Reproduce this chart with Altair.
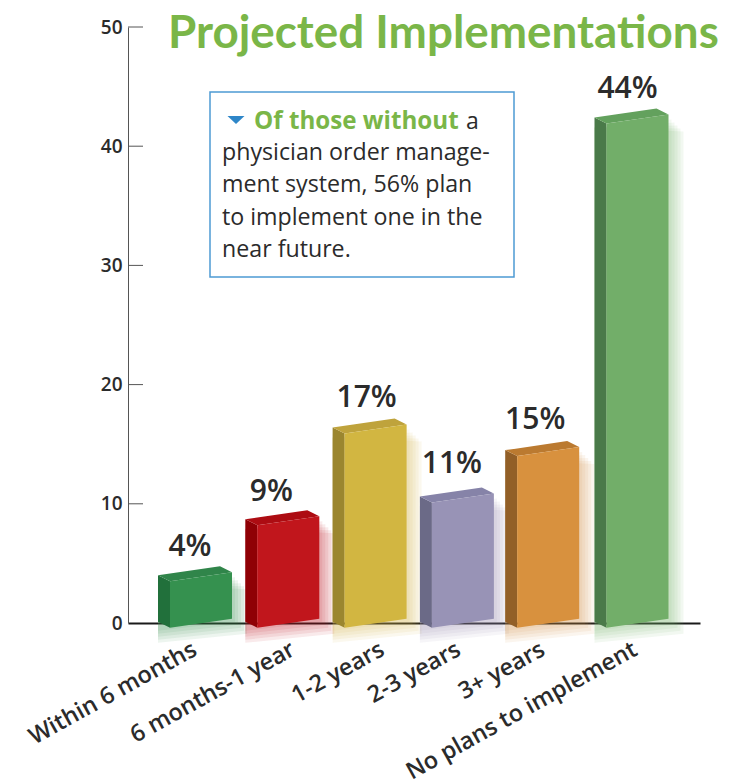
import altair as alt
import pandas as pd

categories = ["Within 6 months", "6 months-1 year", "1-2 years", "2-3 years", "3+ years", "No plans to implement"]
bar_heights = [3.9, 8.6, 16.3, 10.5, 14.4, 42.3]
value_labels = ["4%", "9%", "17%", "11%", "15%", "44%"]
front_colors = ["#35914f", "#c1161c", "#d2b641", "#9893b6", "#d8913e", "#72ae69"]
side_colors = ["#21703b", "#8f0005", "#9b862f", "#6b6a87", "#925f27", "#4a7a49"]
top_colors = ["#30854a", "#ad0c12", "#bfa33c", "#8683a8", "#bb7a30", "#63a15d"]
y_ticks = [0, 10, 20, 30, 40, 50]
note_lines = ["physician order manage-", "ment system, 56% plan", "to implement one in the", "near future."]

PLOT_W, PLOT_H = 572, 596
SLOT = 87.3
PX_X = 1 / SLOT
PX_Y = 50 / PLOT_H
FONT = "Open Sans"
INK = "#2b2b2b"

half = 31 * PX_X
depth = 12 * PX_X
rise = 6 * PX_Y
slant = 9 * PX_Y
base = -0.4
bar_nudge = [0, 0, 0, 0, -2, 0]
label_nudge_x = [0, -6, 2, 0, -4, 1]
label_nudge_y = [-1, -3, 0, 3, 0, -1]
cat_nudge_x = [-6, 5, 7, -4, -7, -2]

faces, shadows, labels, cats = [], [], [], []
for i, h in enumerate(bar_heights):
    c = i + bar_nudge[i] * PX_X
    xl, xr = c - half, c + half
    w = xr - xl
    b, t = base, base + h
    k = str(i)
    for x, up, lo in [(xl - depth, t + rise, b + rise), (xl, t, b)]:
        faces.append(dict(bar=k, face="side", x=x, up=up, lo=lo, color=side_colors[i]))
    for x, up, lo in [
        (xl - depth, t + rise, t + rise),
        (xl, t + rise + slant * depth / w, t),
        (xr - depth, t + slant + rise, t + slant * (w - depth) / w),
        (xr, t + slant, t + slant),
    ]:
        faces.append(dict(bar=k, face="top", x=x, up=up, lo=lo, color=top_colors[i]))
    for x, up, lo in [(xl, t, b), (xr, t + slant, b + slant)]:
        faces.append(dict(bar=k, face="front", x=x, up=up, lo=lo, color=front_colors[i]))
    for g in [3, 6, 9, 12, 15]:
        for x, up, lo in [(xl - depth, t - 4 * PX_Y, b - g * PX_Y),
                          (xr + g * PX_X, t + slant - (g + 2) * PX_Y, b + slant - g * PX_Y)]:
            shadows.append(dict(bar=f"{i}-{g}", x=x, up=up, lo=lo, color=front_colors[i]))
    labels.append(dict(x=i + (label_nudge_x[i] - 11) * PX_X, y=h + 2.6 + label_nudge_y[i] * PX_Y, text=value_labels[i]))
    cats.append(dict(x=i + cat_nudge_x[i] * PX_X, y=-25 * PX_Y, text=categories[i]))

faces = pd.DataFrame(faces)
shadows = pd.DataFrame(shadows)
labels = pd.DataFrame(labels)
cats = pd.DataFrame(cats)

x_scale = alt.Scale(domain=[-73 / SLOT, (PLOT_W - 73) / SLOT], nice=False, zero=False)
y_scale = alt.Scale(domain=[0, 50], nice=False)

x_axis = alt.Axis(
    values=list(range(6)), labels=False, grid=False, ticks=False, tickSize=0,
    domainColor="#1a1a1a", domainWidth=2, title=None,
)
y_axis = alt.Axis(
    values=y_ticks, grid=False, ticks=False, tickSize=0, domainColor="#555555", domainWidth=1,
    labelFont=FONT, labelFontSize=19, labelFontWeight=600, labelColor=INK, labelPadding=6,
    title=None,
)

shadow_layer = alt.Chart(shadows).mark_area(opacity=0.09, interpolate="linear", clip=False).encode(
    x=alt.X("x:Q", scale=x_scale, axis=x_axis),
    y=alt.Y("up:Q", scale=y_scale, axis=y_axis, stack=None),
    y2="lo:Q", detail="bar:N", fill=alt.Fill("color:N", scale=None),
)


def face_layer(name):
    return alt.Chart(faces[faces.face == name]).mark_area(interpolate="linear").encode(
        x=alt.X("x:Q", scale=x_scale, axis=x_axis),
        y=alt.Y("up:Q", scale=y_scale, axis=y_axis, stack=None),
        y2="lo:Q", detail="bar:N", fill=alt.Fill("color:N", scale=None),
    )


tick_layer = alt.Chart(pd.DataFrame({"t": y_ticks[1:]})).mark_rule(color="#555555", strokeWidth=1).encode(
    x=alt.value(0), x2=alt.value(15), y=alt.Y("t:Q", scale=y_scale, axis=y_axis)
)

value_layer = alt.Chart(labels).mark_text(
    font=FONT, fontSize=30, fontWeight=600, color=INK, baseline="middle", align="center"
).encode(
    x=alt.X("x:Q", scale=x_scale, axis=x_axis),
    y=alt.Y("y:Q", scale=y_scale, axis=y_axis),
    text="text:N",
)

category_layer = alt.Chart(cats).mark_text(
    font=FONT, fontSize=23.5, fontWeight=600, color=INK, baseline="middle", align="right", angle=331, limit=500
).encode(
    x=alt.X("x:Q", scale=x_scale, axis=x_axis),
    y=alt.Y("y:Q", scale=y_scale, axis=y_axis),
    text="text:N",
)

one = pd.DataFrame({"a": [0]})
box = alt.Chart(one).mark_rect(fill="white", stroke="#4d9ad4", strokeWidth=1.5).encode(
    x=alt.value(82), x2=alt.value(386), y=alt.value(65), y2=alt.value(250)
)
triangle = alt.Chart(one).mark_point(
    shape="M-1,-0.47L1,-0.47L0,0.47Z", filled=True, fill="#2e86c8", opacity=1, size=290, strokeWidth=0
).encode(x=alt.value(108), y=alt.value(93))
note_head = alt.Chart(one).mark_text(
    text="Of those without", font=FONT, fontSize=24.2, fontWeight=700, color="#7ab648", align="left", baseline="middle"
).encode(x=alt.value(126), y=alt.value(94.5))
note_a = alt.Chart(one).mark_text(
    text="a", font=FONT, fontSize=23, color=INK, align="left", baseline="middle"
).encode(x=alt.value(338), y=alt.value(94.5))
note_body = alt.layer(*[
    alt.Chart(one).mark_text(
        text=line, font=FONT, fontSize=23.2, color=INK, align="left", baseline="middle"
    ).encode(x=alt.value(94), y=alt.value(126 + 32.3 * n))
    for n, line in enumerate(note_lines)
])

chart = alt.layer(
    shadow_layer, tick_layer, box, triangle, note_head, note_a, note_body,
    face_layer("side"), face_layer("top"), face_layer("front"), value_layer, category_layer,
).properties(
    width=PLOT_W, height=PLOT_H,
    padding={"left": 120, "top": 19, "right": 26, "bottom": 157},
    autosize=alt.AutoSizeParams(type="none"),
    title=alt.TitleParams(
        "Projected Implementations", anchor="start", frame="group", dx=40, dy=40, offset=0,
        font="Lato", fontSize=45.8, fontWeight="bold", color="#7ab648",
    ),
).configure_view(stroke=None)

chart.save("out.html", embed_options={"renderer": "svg", "actions": False})
